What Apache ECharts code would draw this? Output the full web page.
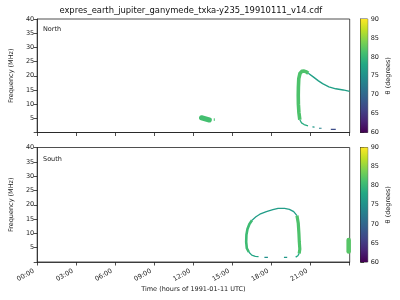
<!DOCTYPE html>
<html><head><meta charset="utf-8">
<script src="https://cdn.jsdelivr.net/npm/echarts@6/dist/echarts.min.js"></script>
<style>html,body{margin:0;padding:0;background:#fff}#c{width:400px;height:300px}</style>
</head><body><div id="c"></div>
<script>
// ---- data (hours of day, frequency MHz), theta in degrees ----
const xTickHours = [0,3,6,9,12,15,18,21,24];
const xTickLabels = ['00:00','03:00','06:00','09:00','12:00','15:00','18:00','21:00',''];
const thetaRange = [60, 90];

const northBlob = [[12.62,5.2],[13.22,4.4]];
const northBlobDash = [[13.6,4.1],[13.6,5.0]];
const northRise = [[20.17,4.5],[20.1,7],[20.06,10],[20.05,13],[20.06,16],[20.09,19],[20.18,20.8],[20.32,21.55],[20.5,21.65],[20.68,21.35],[20.82,20.9]];
const northTail = [[20.82,20.9],[21.2,19.6],[21.6,18.2],[21.92,17.2],[22.4,16.1],[22.93,15.4],[23.5,15.0],[24,14.5]];
const northFall = [[20.17,4.5],[20.3,3.4],[20.5,2.8],[20.8,2.35]];
const northDash1 = [[21.14,1.95],[21.3,1.9]];
const northDash2 = [[21.64,1.5],[21.84,1.5]];
const northDash3 = [[22.55,1.13],[22.93,1.13]];

const southLeft = [[16.25,3.5],[16.1,4.8],[16.05,7],[16.07,9.5],[16.15,11.5],[16.3,13.3],[16.5,14.6]];
const southTop = [[16.5,14.6],[16.8,15.8],[17.1,16.7],[17.6,17.6],[18.1,18.3],[18.5,18.75],[19.0,18.75],[19.37,18.4],[19.7,17.6],[19.95,16.2]];
const southRight = [[19.95,16.2],[20.05,13.5],[20.1,10],[20.13,7],[20.17,4.5],[20.12,3.0]];
const southRightFoot = [[20.12,3.0],[20.02,2.2],[19.85,1.7]];
const southLeftFoot = [[16.25,3.5],[16.48,2.4],[16.75,2.0],[17.0,1.85]];
const southDash1 = [[17.45,1.65],[17.72,1.65]];
const southDash2 = [[18.95,1.65],[19.2,1.65]];
const southEdge = [[23.92,3.7],[23.92,7.7]];

// theta of each stroke
const northThetas = {blob:81, blobDash:81, rise:81.5, tail:77, fall:78.5, d1:76, d2:73, d3:67};
const southThetas = {left:80.5, top:76.5, right:81.5, rightFoot:78, leftFoot:77.5, d1:75, d2:76, edge:82};

// ---- viridis ----
const VIR = ['#440154','#482475','#414487','#355f8d','#2a788e','#21918c','#22a884','#44bf70','#7ad151','#bddf26','#fde725'];
function hex2rgb(h){return [parseInt(h.slice(1,3),16),parseInt(h.slice(3,5),16),parseInt(h.slice(5,7),16)];}
function viridis(t){
  t = Math.max(0, Math.min(1, t));
  const f = t*10, i = Math.min(9, Math.floor(f)), r = f - i;
  const a = hex2rgb(VIR[i]), b = hex2rgb(VIR[i+1]);
  const c = a.map((v,k)=>Math.round(v + (b[k]-v)*r));
  return 'rgb('+c.join(',')+')';
}
function thetaColor(th){ return viridis((th - thetaRange[0])/(thetaRange[1]-thetaRange[0])); }

function stroke(idx, data, theta, width, cap){
  return {type:'line', xAxisIndex:idx, yAxisIndex:idx, data:data, showSymbol:false, symbol:'none',
    silent:true, animation:false, clip:true,
    lineStyle:{color:thetaColor(theta), width:width, cap:cap||'butt', join:'round'}};
}

const FONT = 'DejaVu Sans';
const TXT = '#222';
const G = [
  {left:31.7, top:19, width:318, height:113.5},
  {left:31.7, top:147.5, width:318, height:114.5},
  {left:360.5, top:19, width:7.2, height:113.5},
  {left:360.5, top:147.5, width:7.2, height:114.5}
];
const grids = G.map(g=>Object.assign({show:true, borderColor:'#222', borderWidth:0.8, backgroundColor:'transparent'}, g));

function xMain(idx, labels){
  return {gridIndex:idx, type:'value', min:0, max:24, interval:3,
    axisLine:{show:true, lineStyle:{color:'#222', width:0.8}},
    axisTick:{show:true, length:3.5, lineStyle:{color:'#222', width:0.8}},
    splitLine:{show:false},
    axisLabel:{show:labels, rotate:30, fontSize:6.5, fontFamily:FONT, color:TXT, margin:2.5,
      align:'right', verticalAlign:'top', padding:[0,6,0,0],
      formatter:v=>{const k = xTickHours.indexOf(v); return k>=0 ? xTickLabels[k] : '';}},
    name: labels ? 'Time (hours of 1991-01-11 UTC)' : '', nameLocation:'middle', nameGap:23,
    nameTextStyle:{fontSize:6.5, fontFamily:FONT, color:TXT}};
}
function yMain(idx){
  return {gridIndex:idx, type:'value', min:0, max:40, interval:5,
    axisLine:{show:true, lineStyle:{color:'#222', width:0.8}},
    axisTick:{show:true, length:3.5, lineStyle:{color:'#222', width:0.8}},
    splitLine:{show:false},
    axisLabel:{fontSize:6.5, fontFamily:FONT, color:TXT, margin:3, formatter:v=> v===0 ? '' : String(v)},
    name:'Frequency (MHz)', nameLocation:'middle', nameRotate:90, nameGap:18.5,
    nameTextStyle:{fontSize:6.5, fontFamily:FONT, color:TXT}};
}
function xBar(idx){ return {gridIndex:idx, type:'value', min:0, max:1, show:false}; }
function yBar(idx){
  return {gridIndex:idx, type:'value', position:'right', min:thetaRange[0], max:thetaRange[1], interval:5,
    axisLine:{show:true, lineStyle:{color:'#222', width:0.8}},
    axisTick:{show:true, length:3.5, lineStyle:{color:'#222', width:0.8}},
    splitLine:{show:false},
    axisLabel:{fontSize:6.5, fontFamily:FONT, color:TXT, margin:3},
    name:'θ (degrees)', nameLocation:'middle', nameRotate:90, nameGap:17.5,
    nameTextStyle:{fontSize:6.5, fontFamily:FONT, color:TXT}};
}
function colorbar(idx){
  return {type:'custom', xAxisIndex:idx, yAxisIndex:idx, silent:true, animation:false, clip:false,
    data:[[thetaRange[0], thetaRange[1]]],
    renderItem:(params, api)=>{
      const p0 = api.coord([0, api.value(0)]);
      const p1 = api.coord([1, api.value(1)]);
      const stops = VIR.map((c,i)=>({offset:i/10, color:c}));
      return {type:'rect', shape:{x:p0[0], y:p1[1], width:p1[0]-p0[0], height:p0[1]-p1[1]},
        style:{fill:new echarts.graphic.LinearGradient(0,1,0,0,stops), stroke:null}};
    }};
}

const series = [
  stroke(0, northBlob, northThetas.blob, 5, 'round'),
  stroke(0, northBlobDash, northThetas.blobDash, 1),
  stroke(0, northRise, northThetas.rise, 3.6),
  stroke(0, northTail, northThetas.tail, 1.4),
  stroke(0, northFall, northThetas.fall, 1.3),
  stroke(0, northDash1, northThetas.d1, 1.2),
  stroke(0, northDash2, northThetas.d2, 1.2),
  stroke(0, northDash3, northThetas.d3, 1.2),
  stroke(1, southLeft, southThetas.left, 2.6),
  stroke(1, southTop, southThetas.top, 1.3),
  stroke(1, southRight, southThetas.right, 3.2),
  stroke(1, southRightFoot, southThetas.rightFoot, 1.3),
  stroke(1, southLeftFoot, southThetas.leftFoot, 1.3),
  stroke(1, southDash1, southThetas.d1, 1.2),
  stroke(1, southDash2, southThetas.d2, 1.2),
  stroke(1, southEdge, southThetas.edge, 4.5, 'round'),
  colorbar(2),
  colorbar(3)
];

const chart = echarts.init(document.getElementById('c'), null, {renderer:'canvas'});
chart.setOption({
  animation:false,
  textStyle:{fontFamily:FONT},
  grid:grids,
  xAxis:[xMain(0,false), xMain(1,true), xBar(2), xBar(3)],
  yAxis:[yMain(0), yMain(1), yBar(2), yBar(3)],
  series:series,
  graphic:[
    {type:'text', x:190.8, y:10.5, style:{text:'expres_earth_jupiter_ganymede_txka-y235_19910111_v14.cdf', fontSize:8.4, fontFamily:FONT, fill:'#111', align:'center', verticalAlign:'middle'}},
    {type:'text', x:43, y:29.5, style:{text:'North', fontSize:6.5, fontFamily:FONT, fill:TXT, align:'left', verticalAlign:'middle'}},
    {type:'text', x:43, y:159, style:{text:'South', fontSize:6.5, fontFamily:FONT, fill:TXT, align:'left', verticalAlign:'middle'}}
  ]
});
</script></body></html>
